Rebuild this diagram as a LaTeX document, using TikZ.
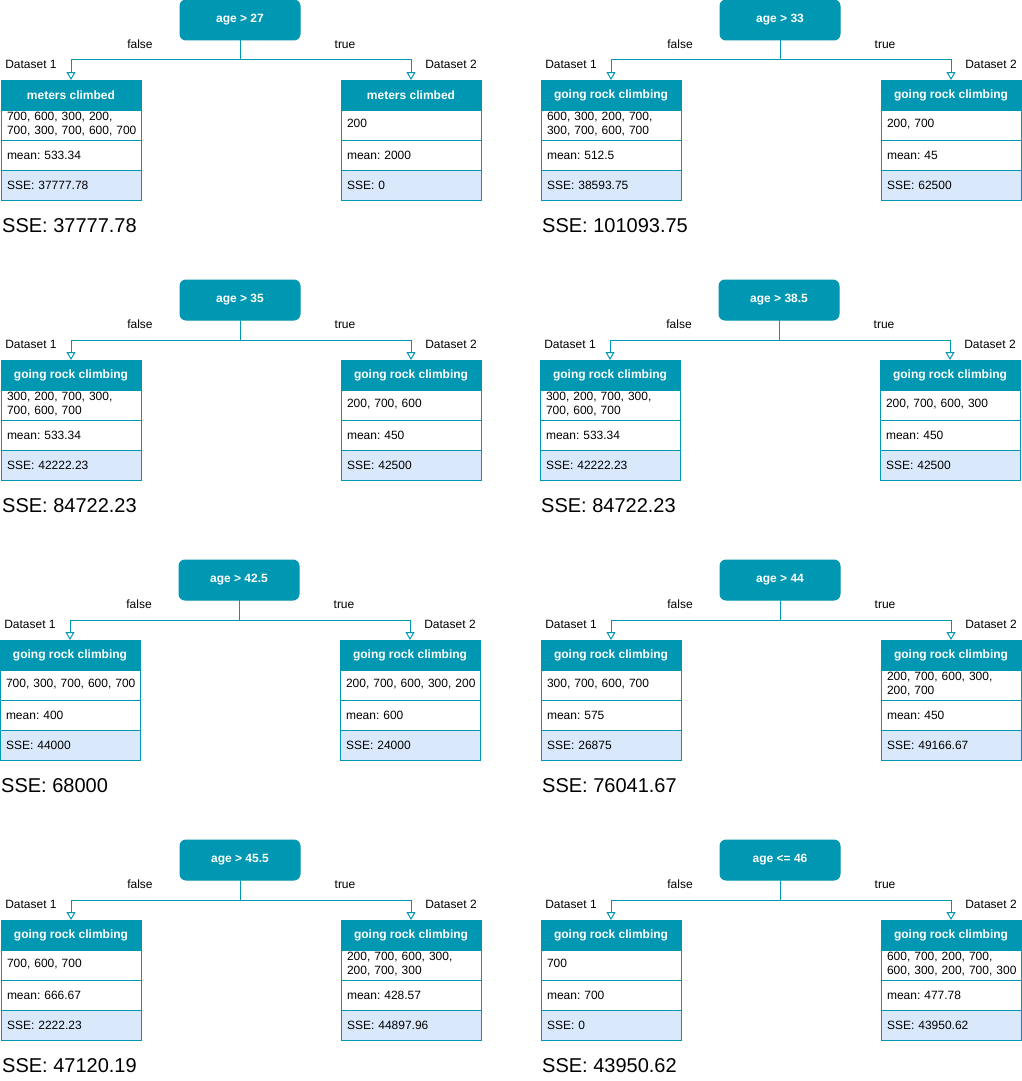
\documentclass[tikz,border=0pt]{standalone}
\usepackage{fontspec}
\setmainfont{Liberation Sans}
\frenchspacing
\usetikzlibrary{arrows.meta}
\usetikzlibrary{positioning}

\definecolor{petrol}{RGB}{0,151,178}
\definecolor{hellblau}{RGB}{218,232,252}

\tikzset{
  kopf/.style={draw=petrol, fill=petrol, text=white, line width=1pt, outer sep=0pt,
    font=\fontsize{12}{13.5}\selectfont\bfseries, minimum width=140pt, minimum height=30pt, inner sep=0pt},
  zeile/.style={draw=petrol, fill=white, line width=1pt, outer sep=0pt,
    font=\fontsize{12}{13.5}\selectfont, text width=128pt, inner xsep=6pt, inner ysep=0pt,
    minimum height=30pt, align=left},
  summe/.style={zeile, fill=hellblau},
  wurzel/.style={draw=petrol, fill=petrol, text=white, line width=1pt, rounded corners=6pt, outer sep=0pt,
    font=\fontsize{12}{13.5}\selectfont\bfseries, minimum width=120pt, minimum height=40pt, inner sep=0pt},
  kante/.style={draw=petrol, line width=1pt, -{Triangle[open,length=8pt,width=9pt]}},
  beschriftung/.style={font=\fontsize{12}{13.5}\selectfont, inner sep=0pt},
  gesamt/.style={font=\fontsize{20}{24}\selectfont, anchor=west, inner sep=0pt}
}

% Tabelle: #1 Name, #2 x, #3 y, #4 Titel, #5 Werte, #6 Mittelwert, #7 SSE
\newcommand{\tabelle}[7]{
  \node[kopf] (#1-h) at (#2,#3) {#4};
  \node[zeile, below=0pt of #1-h] (#1-w) {\begin{tabular}{@{}l@{}}#5\end{tabular}};
  \node[zeile, below=0pt of #1-w] (#1-m) {mean: #6};
  \node[summe, below=0pt of #1-m] (#1-s) {SSE: #7};
}

% Teilung: #1 Name, #2 x, #3 y, #4 Bedingung, #5 Gesamt-SSE
\newcommand{\teilung}[5]{
  \node[wurzel] (#1-k) at (#2+240,#3+20) {#4};
  \draw[kante] (#1-k.south) -- ++(0,20) -| (#1-l-h.north);
  \draw[kante] (#1-k.south) -- ++(0,20) -| (#1-r-h.north);
  \node[beschriftung] (#1-f) at (#2+140,#3+44.5) {false};
  \node[beschriftung] (#1-t) at (#2+345,#3+44.5) {true};
  \node[beschriftung] (#1-d1) at (#2+31,#3+64.5) {Dataset 1};
  \node[beschriftung] (#1-d2) at (#2+451,#3+64.5) {Dataset 2};
  \node[gesamt] (#1-g) at (#2+2,#3+226) {SSE: #5};
}

\begin{document}
\begin{tikzpicture}[x=1pt,y=-1pt]
    \useasboundingbox (0,0) rectangle (1022,1081);

    % Zeile 1
    \tabelle{a-l}{71}{95}{meters climbed}{700, 600, 300, 200,\\700, 300, 700, 600, 700}{533.34}{37777.78}
    \tabelle{a-r}{411}{95}{meters climbed}{200}{2000}{0}
    \teilung{a}{0}{0}{age > 27}{37777.78}

    \tabelle{b-l}{611}{95}{going rock climbing}{600, 300, 200, 700,\\300, 700, 600, 700}{512.5}{38593.75}
    \tabelle{b-r}{951}{95}{going rock climbing}{200, 700}{45}{62500}
    \teilung{b}{540}{0}{age > 33}{101093.75}

    % Zeile 2
    \tabelle{c-l}{71}{375}{going rock climbing}{300, 200, 700, 300,\\700, 600, 700}{533.34}{42222.23}
    \tabelle{c-r}{411}{375}{going rock climbing}{200, 700, 600}{450}{42500}
    \teilung{c}{0}{280}{age > 35}{84722.23}

    \tabelle{d-l}{610}{375}{going rock climbing}{300, 200, 700, 300,\\700, 600, 700}{533.34}{42222.23}
    \tabelle{d-r}{950}{375}{going rock climbing}{200, 700, 600, 300}{450}{42500}
    \teilung{d}{539}{280}{age > 38.5}{84722.23}

    % Zeile 3
    \tabelle{e-l}{70}{655}{going rock climbing}{700, 300, 700, 600, 700}{400}{44000}
    \tabelle{e-r}{410}{655}{going rock climbing}{200, 700, 600, 300, 200}{600}{24000}
    \teilung{e}{-1}{560}{age > 42.5}{68000}

    \tabelle{f-l}{611}{655}{going rock climbing}{300, 700, 600, 700}{575}{26875}
    \tabelle{f-r}{951}{655}{going rock climbing}{200, 700, 600, 300,\\200, 700}{450}{49166.67}
    \teilung{f}{540}{560}{age > 44}{76041.67}

    % Zeile 4
    \tabelle{g-l}{71}{935}{going rock climbing}{700, 600, 700}{666.67}{2222.23}
    \tabelle{g-r}{411}{935}{going rock climbing}{200, 700, 600, 300,\\200, 700, 300}{428.57}{44897.96}
    \teilung{g}{0}{840}{age > 45.5}{47120.19}

    \tabelle{h-l}{611}{935}{going rock climbing}{700}{700}{0}
    \tabelle{h-r}{951}{935}{going rock climbing}{600, 700, 200, 700,\\600, 300, 200, 700, 300}{477.78}{43950.62}
    \teilung{h}{540}{840}{age <= 46}{43950.62}
\end{tikzpicture}
\end{document}
